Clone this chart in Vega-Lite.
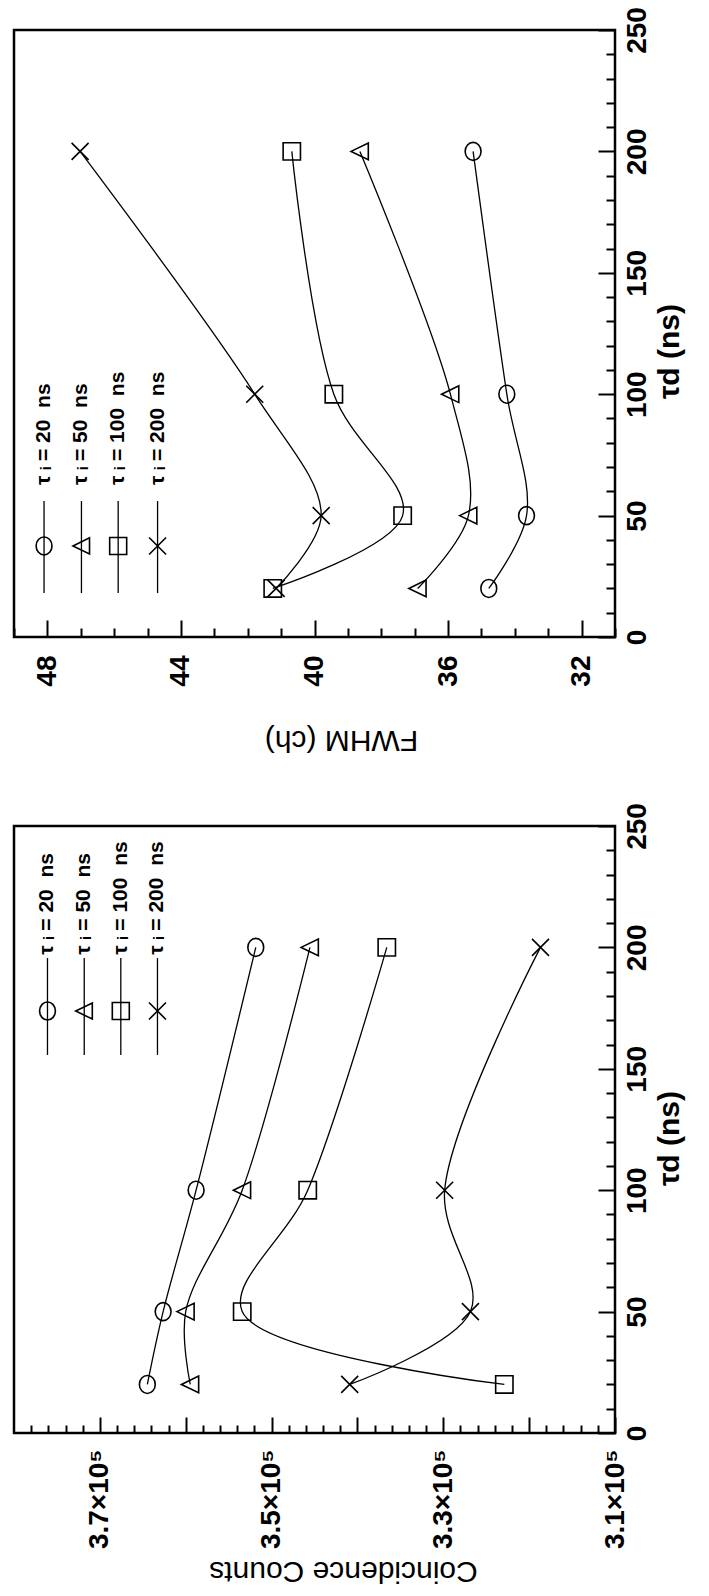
{
  "$schema": "https://vega.github.io/schema/vega-lite/v6.json",
  "background": "white",
  "padding": {"left": 11, "top": 5, "right": 0, "bottom": 5},
  "bounds": "flush",
  "spacing": 189,
  "datasets": {
    "fwhm": [
      {"tau_i": "20 ns", "tau_d": 20, "fwhm": 34.78},
      {"tau_i": "20 ns", "tau_d": 50, "fwhm": 33.65},
      {"tau_i": "20 ns", "tau_d": 100, "fwhm": 34.24},
      {"tau_i": "20 ns", "tau_d": 200, "fwhm": 35.25},
      {"tau_i": "50 ns", "tau_d": 20, "fwhm": 36.91},
      {"tau_i": "50 ns", "tau_d": 50, "fwhm": 35.39},
      {"tau_i": "50 ns", "tau_d": 100, "fwhm": 35.93},
      {"tau_i": "50 ns", "tau_d": 200, "fwhm": 38.64},
      {"tau_i": "100 ns", "tau_d": 20, "fwhm": 41.25},
      {"tau_i": "100 ns", "tau_d": 50, "fwhm": 37.36},
      {"tau_i": "100 ns", "tau_d": 100, "fwhm": 39.42},
      {"tau_i": "100 ns", "tau_d": 200, "fwhm": 40.68},
      {"tau_i": "200 ns", "tau_d": 20, "fwhm": 41.15},
      {"tau_i": "200 ns", "tau_d": 50, "fwhm": 39.8},
      {"tau_i": "200 ns", "tau_d": 100, "fwhm": 41.79},
      {"tau_i": "200 ns", "tau_d": 200, "fwhm": 47.02}
    ],
    "counts": [
      {"tau_i": "20 ns", "tau_d": 20, "counts": 364470},
      {"tau_i": "20 ns", "tau_d": 50, "counts": 362630},
      {"tau_i": "20 ns", "tau_d": 100, "counts": 358790},
      {"tau_i": "20 ns", "tau_d": 200, "counts": 351840},
      {"tau_i": "50 ns", "tau_d": 20, "counts": 359470},
      {"tau_i": "50 ns", "tau_d": 50, "counts": 360000},
      {"tau_i": "50 ns", "tau_d": 100, "counts": 353420},
      {"tau_i": "50 ns", "tau_d": 200, "counts": 345530},
      {"tau_i": "100 ns", "tau_d": 20, "counts": 322890},
      {"tau_i": "100 ns", "tau_d": 50, "counts": 353420},
      {"tau_i": "100 ns", "tau_d": 100, "counts": 345790},
      {"tau_i": "100 ns", "tau_d": 200, "counts": 336580},
      {"tau_i": "200 ns", "tau_d": 20, "counts": 340900},
      {"tau_i": "200 ns", "tau_d": 50, "counts": 326840},
      {"tau_i": "200 ns", "tau_d": 100, "counts": 329840},
      {"tau_i": "200 ns", "tau_d": 200, "counts": 318680}
    ]
  },
  "config": {
    "view": {"stroke": "black", "strokeWidth": 2.5},
    "axis": {
      "domain": false, "grid": false,
      "labelFont": "Liberation Sans", "labelFontSize": 28, "labelFontWeight": "bold", "labelColor": "black",
      "labelOverlap": false, "labelFlush": false,
      "tickColor": "black", "tickWidth": 2,
      "titleFont": "Liberation Sans", "titleFontSize": 30, "titleColor": "black"
    }
  },
  "vconcat": [
    {
      "width": 601, "height": 607,
      "resolve": {"axis": {"x": "independent", "y": "independent"}},
      "layer": [
        {
          "data": {"name": "fwhm"},
          "mark": {"type": "line", "interpolate": "catmull-rom", "color": "black", "strokeWidth": 1.3},
          "encoding": {
            "x": {"field": "fwhm", "type": "quantitative",
              "scale": {"domain": [31, 49], "reverse": true, "nice": false, "zero": false},
              "axis": {"orient": "bottom", "values": [32, 36, 40, 44, 48], "tickSize": -17,
                "labelAngle": 270, "labelAlign": "right", "labelBaseline": "middle", "labelPadding": 35,
                "title": "FWHM (ch)", "titleAngle": 180, "titleBaseline": "bottom", "titleFontWeight": "normal", "titlePadding": 38, "titleX": 327}},
            "y": {"field": "tau_d", "type": "quantitative",
              "scale": {"domain": [0, 250], "nice": false, "zero": false},
              "axis": {"orient": "right", "values": [0, 50, 100, 150, 200, 250], "tickSize": -17,
                "labelAngle": 270, "labelAlign": "center", "labelBaseline": "top", "labelPadding": 25,
                "title": "τd (ns)", "titleAngle": 270, "titleBaseline": "top", "titleFontWeight": "bold", "titlePadding": 3, "titleY": 321}},
            "detail": {"field": "tau_i"},
            "order": {"field": "tau_d"}
          }
        },
        {
          "data": {"name": "fwhm"},
          "mark": {"type": "point", "filled": false, "color": "black", "strokeWidth": 1.6, "opacity": 1},
          "encoding": {
            "x": {"field": "fwhm", "type": "quantitative",
              "axis": {"orient": "bottom", "values": [31,33,34,35,37,38,39,41,42,43,45,46,47,49], "tickSize": -9, "labels": false, "title": null}},
            "y": {"field": "tau_d", "type": "quantitative",
              "axis": {"orient": "right", "values": [10,20,30,40,60,70,80,90,110,120,130,140,160,170,180,190,210,220,230,240], "tickSize": -9, "labels": false, "title": null}},
            "shape": {"field": "tau_i", "type": "nominal", "legend": null,
              "scale": {"domain": ["20 ns", "50 ns", "100 ns", "200 ns"],
                "range": ["M0,-1A0.88,1 0 1,1 0,1A0.88,1 0 1,1 0,-1Z", "M-1,0L0.95,-0.95L0.95,0.95Z", "M-1,-1L1,-1L1,1L-1,1Z", "M-1,-1L1,1M-1,1L1,-1"]}},
            "size": {"field": "tau_i", "type": "ordinal", "legend": null,
              "scale": {"domain": ["20 ns", "50 ns", "100 ns", "200 ns"], "range": [324, 289, 289, 289]}}
          }
        },
        {"data": {"values": [{}]}, "mark": {"type": "rule", "color": "black", "strokeWidth": 1.3},
         "encoding": {"x": {"datum": 48.1, "type": "quantitative", "axis": null}, "y": {"datum": 18.1, "type": "quantitative", "axis": null}, "y2": {"datum": 56}}},
        {"data": {"values": [{}]}, "mark": {"type": "rule", "color": "black", "strokeWidth": 1.3},
         "encoding": {"x": {"datum": 46.98, "type": "quantitative", "axis": null}, "y": {"datum": 18.1, "type": "quantitative", "axis": null}, "y2": {"datum": 56}}},
        {"data": {"values": [{}]}, "mark": {"type": "rule", "color": "black", "strokeWidth": 1.3},
         "encoding": {"x": {"datum": 45.88, "type": "quantitative", "axis": null}, "y": {"datum": 18.1, "type": "quantitative", "axis": null}, "y2": {"datum": 56}}},
        {"data": {"values": [{}]}, "mark": {"type": "rule", "color": "black", "strokeWidth": 1.3},
         "encoding": {"x": {"datum": 44.7, "type": "quantitative", "axis": null}, "y": {"datum": 18.1, "type": "quantitative", "axis": null}, "y2": {"datum": 56}}},
        {"data": {"values": [{}]}, "mark": {"type": "point", "shape": "M0,-1A0.88,1 0 1,1 0,1A0.88,1 0 1,1 0,-1Z", "size": 324, "filled": false, "color": "black", "strokeWidth": 1.6, "opacity": 1},
         "encoding": {"x": {"datum": 48.1, "type": "quantitative", "axis": null}, "y": {"datum": 37.5, "type": "quantitative", "axis": null}}},
        {"data": {"values": [{}]}, "mark": {"type": "point", "shape": "M-1,0L0.95,-0.95L0.95,0.95Z", "size": 289, "filled": false, "color": "black", "strokeWidth": 1.6, "opacity": 1},
         "encoding": {"x": {"datum": 46.98, "type": "quantitative", "axis": null}, "y": {"datum": 37.5, "type": "quantitative", "axis": null}}},
        {"data": {"values": [{}]}, "mark": {"type": "point", "shape": "M-1,-1L1,-1L1,1L-1,1Z", "size": 289, "filled": false, "color": "black", "strokeWidth": 1.6, "opacity": 1},
         "encoding": {"x": {"datum": 45.88, "type": "quantitative", "axis": null}, "y": {"datum": 37.5, "type": "quantitative", "axis": null}}},
        {"data": {"values": [{}]}, "mark": {"type": "point", "shape": "M-1,-1L1,1M-1,1L1,-1", "size": 289, "filled": false, "color": "black", "strokeWidth": 1.6, "opacity": 1},
         "encoding": {"x": {"datum": 44.7, "type": "quantitative", "axis": null}, "y": {"datum": 37.5, "type": "quantitative", "axis": null}}},
        {"data": {"values": [{}]}, "mark": {"type": "text", "text": "τ ᵢ = 20\u00a0\u00a0ns", "angle": 270, "align": "left", "baseline": "middle", "font": "Liberation Sans", "fontSize": 21, "fontWeight": "bold", "color": "black"},
         "encoding": {"x": {"datum": 48.1, "type": "quantitative", "axis": null}, "y": {"datum": 62.6, "type": "quantitative", "axis": null}}},
        {"data": {"values": [{}]}, "mark": {"type": "text", "text": "τ ᵢ = 50\u00a0\u00a0ns", "angle": 270, "align": "left", "baseline": "middle", "font": "Liberation Sans", "fontSize": 21, "fontWeight": "bold", "color": "black"},
         "encoding": {"x": {"datum": 46.98, "type": "quantitative", "axis": null}, "y": {"datum": 62.6, "type": "quantitative", "axis": null}}},
        {"data": {"values": [{}]}, "mark": {"type": "text", "text": "τ ᵢ = 100\u00a0\u00a0ns", "angle": 270, "align": "left", "baseline": "middle", "font": "Liberation Sans", "fontSize": 21, "fontWeight": "bold", "color": "black"},
         "encoding": {"x": {"datum": 45.88, "type": "quantitative", "axis": null}, "y": {"datum": 62.6, "type": "quantitative", "axis": null}}},
        {"data": {"values": [{}]}, "mark": {"type": "text", "text": "τ ᵢ = 200\u00a0\u00a0ns", "angle": 270, "align": "left", "baseline": "middle", "font": "Liberation Sans", "fontSize": 21, "fontWeight": "bold", "color": "black"},
         "encoding": {"x": {"datum": 44.7, "type": "quantitative", "axis": null}, "y": {"datum": 62.6, "type": "quantitative", "axis": null}}}
      ]
    },
    {
      "width": 601, "height": 607,
      "resolve": {"axis": {"x": "independent", "y": "independent"}},
      "layer": [
        {
          "data": {"name": "counts"},
          "mark": {"type": "line", "interpolate": "catmull-rom", "color": "black", "strokeWidth": 1.3},
          "encoding": {
            "x": {"field": "counts", "type": "quantitative",
              "scale": {"domain": [310000, 380000], "reverse": true, "nice": false, "zero": false},
              "axis": {"orient": "bottom", "values": [310000, 320000, 330000, 340000, 350000, 360000, 370000], "tickSize": -16,
                "labelExpr": "datum.value % 20000 === 10000 ? format(datum.value / 100000, '.1f') + '×10⁵' : ''",
                "labelAngle": 270, "labelAlign": "right", "labelBaseline": "middle", "labelPadding": 32,
                "title": "Coincidence Counts", "titleAngle": 180, "titleBaseline": "bottom", "titleFontWeight": "normal", "titlePadding": 7, "titleX": 329}},
            "y": {"field": "tau_d", "type": "quantitative",
              "scale": {"domain": [0, 250], "nice": false, "zero": false},
              "axis": {"orient": "right", "values": [0, 50, 100, 150, 200, 250], "tickSize": -17,
                "labelAngle": 270, "labelAlign": "center", "labelBaseline": "top", "labelPadding": 25,
                "title": "τd (ns)", "titleAngle": 270, "titleBaseline": "top", "titleFontWeight": "bold", "titlePadding": 3, "titleY": 312}},
            "detail": {"field": "tau_i"},
            "order": {"field": "tau_d"}
          }
        },
        {
          "data": {"name": "counts"},
          "mark": {"type": "point", "filled": false, "color": "black", "strokeWidth": 1.6, "opacity": 1},
          "encoding": {
            "x": {"field": "counts", "type": "quantitative",
              "axis": {"orient": "bottom", "values": [312000,314000,316000,318000,322000,324000,326000,328000,332000,334000,336000,338000,342000,344000,346000,348000,352000,354000,356000,358000,362000,364000,366000,368000,372000,374000,376000,378000], "tickSize": -8, "labels": false, "title": null}},
            "y": {"field": "tau_d", "type": "quantitative",
              "axis": {"orient": "right", "values": [10,20,30,40,60,70,80,90,110,120,130,140,160,170,180,190,210,220,230,240], "tickSize": -9, "labels": false, "title": null}},
            "shape": {"field": "tau_i", "type": "nominal", "legend": null,
              "scale": {"domain": ["20 ns", "50 ns", "100 ns", "200 ns"],
                "range": ["M0,-1A0.88,1 0 1,1 0,1A0.88,1 0 1,1 0,-1Z", "M-1,0L0.95,-0.95L0.95,0.95Z", "M-1,-1L1,-1L1,1L-1,1Z", "M-1,-1L1,1M-1,1L1,-1"]}},
            "size": {"field": "tau_i", "type": "ordinal", "legend": null,
              "scale": {"domain": ["20 ns", "50 ns", "100 ns", "200 ns"], "range": [324, 289, 289, 289]}}
          }
        },
        {"data": {"values": [{}]}, "mark": {"type": "rule", "color": "black", "strokeWidth": 1.3},
         "encoding": {"x": {"datum": 376100, "type": "quantitative", "axis": null}, "y": {"datum": 155.7, "type": "quantitative", "axis": null}, "y2": {"datum": 195.6}}},
        {"data": {"values": [{}]}, "mark": {"type": "rule", "color": "black", "strokeWidth": 1.3},
         "encoding": {"x": {"datum": 371820, "type": "quantitative", "axis": null}, "y": {"datum": 155.7, "type": "quantitative", "axis": null}, "y2": {"datum": 195.6}}},
        {"data": {"values": [{}]}, "mark": {"type": "rule", "color": "black", "strokeWidth": 1.3},
         "encoding": {"x": {"datum": 367560, "type": "quantitative", "axis": null}, "y": {"datum": 155.7, "type": "quantitative", "axis": null}, "y2": {"datum": 195.6}}},
        {"data": {"values": [{}]}, "mark": {"type": "rule", "color": "black", "strokeWidth": 1.3},
         "encoding": {"x": {"datum": 363290, "type": "quantitative", "axis": null}, "y": {"datum": 155.7, "type": "quantitative", "axis": null}, "y2": {"datum": 195.6}}},
        {"data": {"values": [{}]}, "mark": {"type": "point", "shape": "M0,-1A0.88,1 0 1,1 0,1A0.88,1 0 1,1 0,-1Z", "size": 324, "filled": false, "color": "black", "strokeWidth": 1.6, "opacity": 1},
         "encoding": {"x": {"datum": 376100, "type": "quantitative", "axis": null}, "y": {"datum": 173.8, "type": "quantitative", "axis": null}}},
        {"data": {"values": [{}]}, "mark": {"type": "point", "shape": "M-1,0L0.95,-0.95L0.95,0.95Z", "size": 289, "filled": false, "color": "black", "strokeWidth": 1.6, "opacity": 1},
         "encoding": {"x": {"datum": 371820, "type": "quantitative", "axis": null}, "y": {"datum": 173.8, "type": "quantitative", "axis": null}}},
        {"data": {"values": [{}]}, "mark": {"type": "point", "shape": "M-1,-1L1,-1L1,1L-1,1Z", "size": 289, "filled": false, "color": "black", "strokeWidth": 1.6, "opacity": 1},
         "encoding": {"x": {"datum": 367560, "type": "quantitative", "axis": null}, "y": {"datum": 173.8, "type": "quantitative", "axis": null}}},
        {"data": {"values": [{}]}, "mark": {"type": "point", "shape": "M-1,-1L1,1M-1,1L1,-1", "size": 289, "filled": false, "color": "black", "strokeWidth": 1.6, "opacity": 1},
         "encoding": {"x": {"datum": 363290, "type": "quantitative", "axis": null}, "y": {"datum": 173.8, "type": "quantitative", "axis": null}}},
        {"data": {"values": [{}]}, "mark": {"type": "text", "text": "τ ᵢ = 20\u00a0\u00a0ns", "angle": 270, "align": "left", "baseline": "middle", "font": "Liberation Sans", "fontSize": 21, "fontWeight": "bold", "color": "black"},
         "encoding": {"x": {"datum": 376100, "type": "quantitative", "axis": null}, "y": {"datum": 197, "type": "quantitative", "axis": null}}},
        {"data": {"values": [{}]}, "mark": {"type": "text", "text": "τ ᵢ = 50\u00a0\u00a0ns", "angle": 270, "align": "left", "baseline": "middle", "font": "Liberation Sans", "fontSize": 21, "fontWeight": "bold", "color": "black"},
         "encoding": {"x": {"datum": 371820, "type": "quantitative", "axis": null}, "y": {"datum": 197, "type": "quantitative", "axis": null}}},
        {"data": {"values": [{}]}, "mark": {"type": "text", "text": "τ ᵢ = 100\u00a0\u00a0ns", "angle": 270, "align": "left", "baseline": "middle", "font": "Liberation Sans", "fontSize": 21, "fontWeight": "bold", "color": "black"},
         "encoding": {"x": {"datum": 367560, "type": "quantitative", "axis": null}, "y": {"datum": 197, "type": "quantitative", "axis": null}}},
        {"data": {"values": [{}]}, "mark": {"type": "text", "text": "τ ᵢ = 200\u00a0\u00a0ns", "angle": 270, "align": "left", "baseline": "middle", "font": "Liberation Sans", "fontSize": 21, "fontWeight": "bold", "color": "black"},
         "encoding": {"x": {"datum": 363290, "type": "quantitative", "axis": null}, "y": {"datum": 197, "type": "quantitative", "axis": null}}}
      ]
    }
  ]
}
